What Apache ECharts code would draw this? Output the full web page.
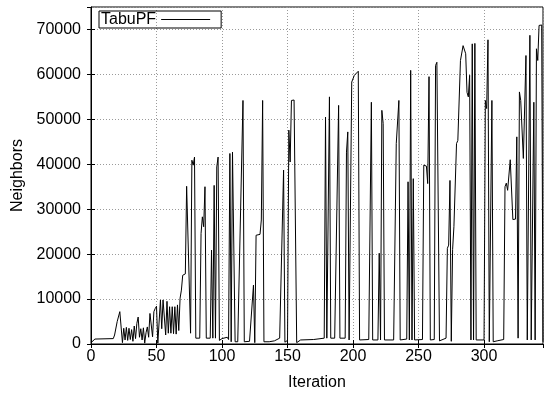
<!DOCTYPE html>
<html>
<head>
<meta charset="utf-8">
<script src="https://cdn.jsdelivr.net/npm/echarts@6/dist/echarts.min.js"></script>
<style>
html,body{margin:0;padding:0;background:#fff;}
#chart{width:545px;height:398px;}
</style>
</head>
<body>
<div id="chart"></div>
<script>
// Iteration values (x) and neighbor counts (y)
const iterations = [
  0, 3, 17, 18, 20, 22, 24, 25, 26, 27, 28, 29, 30, 31, 32, 33, 34, 35, 36, 37,
  38, 39, 40, 41, 42, 43, 44, 45, 46, 47, 48, 49, 50, 51, 53, 54, 55, 56, 57, 58,
  59, 60, 61, 62, 63, 64, 65, 66, 67, 68, 69, 70, 72, 73, 76, 77, 78, 79, 80, 83,
  84, 85, 86, 87, 88, 91, 92, 93, 94, 95, 96, 97, 98, 100, 104, 105, 106, 107, 108, 110,
  112, 116, 117, 121, 124, 125, 126, 129, 130, 131, 132, 136, 140, 144, 147, 148, 150, 151, 152, 153,
  154, 155, 157, 160, 170, 178, 179, 180, 182, 183, 186, 189, 190, 194, 195, 196, 197, 199, 201, 204,
  205, 206, 212, 214, 215, 219, 220, 221, 222, 223, 224, 231, 232, 233, 235, 236, 241, 242, 243, 244,
  245, 246, 247, 253, 254, 256, 257, 258, 259, 262, 263, 264, 266, 271, 272, 273, 274, 275, 276, 277,
  278, 279, 280, 282, 284, 285, 286, 287, 288, 289, 290, 291, 292, 293, 294, 300, 301, 302, 303, 304,
  305, 306, 307, 310, 315, 316, 317, 318, 320, 322, 324, 325, 326, 327, 328, 330, 332, 333, 335, 336,
  338, 339, 340, 341, 342, 343, 344, 345
];
const neighbors = [
  300, 1100, 1200, 2000, 5000, 7200, 300, 3500, 900, 3700, 800, 3500, 1000, 3200, 600, 4000, 1200, 4600, 6000, 1500,
  3400, 900, 3600, 200, 2500, 3800, 1500, 6800, 6500, 1600, 7200, 7900, 8400, 200, 9800, 3400, 9800, 9900, 2000, 9500,
  2400, 8300, 2400, 8300, 2300, 8300, 2200, 8700, 3000, 10200, 12000, 15300, 15600, 35100, 2400, 40900, 39800, 41600, 1300, 1300,
  24600, 28300, 26100, 35000, 1300, 1300, 20900, 1300, 35300, 1300, 39400, 41600, 800, 1200, 1500, 1000, 42400, 500, 42700, 500,
  500, 54200, 500, 600, 13100, 300, 24200, 24400, 27600, 54200, 500, 500, 700, 1300, 38700, 400, 800, 47600, 40500, 54200,
  53800, 54300, 300, 900, 1000, 1300, 50500, 1300, 55000, 1300, 1300, 53100, 1300, 1300, 42700, 47200, 900, 58300, 59800, 60700,
  900, 900, 1000, 53800, 900, 900, 20200, 900, 52000, 49100, 900, 900, 1000, 44600, 54200, 900, 1100, 36100, 900, 60900,
  900, 36800, 900, 1000, 39800, 39600, 35700, 59500, 900, 1000, 62000, 62700, 700, 1300, 21300, 22000, 36400, 600, 21000, 26100,
  26300, 44600, 45300, 63100, 66400, 66800, 64600, 56000, 55000, 59800, 900, 66800, 900, 66900, 900, 900, 54200, 52400, 67700, 500,
  500, 54200, 500, 700, 1000, 35000, 35800, 34200, 41000, 27700, 27800, 46100, 1300, 56100, 54200, 41300, 64200, 900, 68700, 900,
  53800, 900, 65700, 63100, 70900, 71100, 71000, 500
];
const xTicks = [0, 50, 100, 150, 200, 250, 300];
const yTicks = [0, 10000, 20000, 30000, 40000, 50000, 60000, 70000];

const points = iterations.map((x, i) => [x, neighbors[i]]);
const FONT = "'Liberation Sans', Arial, Helvetica, sans-serif";

const chart = echarts.init(document.getElementById('chart'), null, {renderer: 'canvas'});
const gridLine = {show: true, lineStyle: {color: '#9a9a9a', width: 1, type: [1, 2]}};
chart.setOption({
  animation: false,
  backgroundColor: '#fff',
  grid: {left: 91, right: 2, top: 7, bottom: 54, show: true, borderColor: '#000', borderWidth: 1},
  legend: {
    left: 99, top: 11,
    align: 'right',
    orient: 'horizontal',
    padding: [0, 11, 0, 2],
    borderColor: '#000', borderWidth: 1,
    itemWidth: 49, itemHeight: 1,
    data: [{name: 'TabuPF', icon: 'rect'}],
    textStyle: {fontFamily: FONT, fontSize: 16, color: '#000', lineHeight: 17}
  },
  xAxis: [{
    type: 'value', min: 0, max: 345, interval: 50,
    name: 'Iteration', nameLocation: 'middle', nameGap: 31,
    nameTextStyle: {fontFamily: FONT, fontSize: 16, color: '#000'},
    axisLine: {show: true, lineStyle: {color: '#000'}},
    axisTick: {show: true, inside: true, length: 4, lineStyle: {color: '#000'}},
    axisLabel: {
      fontFamily: FONT, fontSize: 16, color: '#000', margin: 5, showMaxLabel: false,
      formatter: v => xTicks.includes(v) ? String(v) : ''
    },
    splitLine: gridLine
  }, {
    type: 'value', min: 0, max: 345, interval: 50, position: 'top',
    axisLine: {show: false},
    axisTick: {show: true, inside: true, length: 4, lineStyle: {color: '#000'}},
    axisLabel: {show: false}, splitLine: {show: false}
  }],
  yAxis: [{
    type: 'value', min: 0, max: 75000, interval: 10000,
    name: 'Neighbors', nameLocation: 'middle', nameGap: 62, nameRotate: 90,
    nameTextStyle: {fontFamily: FONT, fontSize: 16, color: '#000'},
    axisLine: {show: true, lineStyle: {color: '#000'}},
    axisTick: {show: true, inside: true, length: 4, lineStyle: {color: '#000'}},
    axisLabel: {
      fontFamily: FONT, fontSize: 16, color: '#000', margin: 10, showMaxLabel: false,
      formatter: v => yTicks.includes(v) ? String(v) : ''
    },
    splitLine: gridLine
  }, {
    type: 'value', min: 0, max: 75000, interval: 10000, position: 'right',
    axisLine: {show: false},
    axisTick: {show: true, inside: true, length: 4, lineStyle: {color: '#000'}},
    axisLabel: {show: false}, splitLine: {show: false}
  }],
  series: [{
    name: 'TabuPF', type: 'line', xAxisIndex: 0, yAxisIndex: 0,
    data: points, showSymbol: false, symbol: 'none',
    lineStyle: {color: '#000', width: 1}, itemStyle: {color: '#000'},
    clip: true
  }]
});
</script>
</body>
</html>
